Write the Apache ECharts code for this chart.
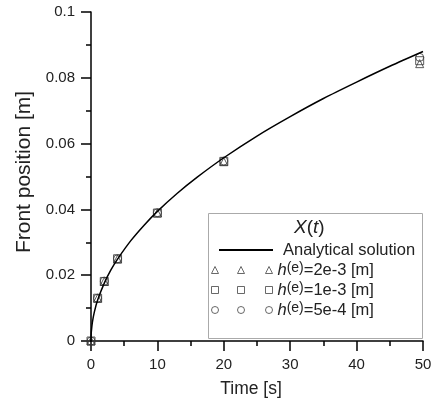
<!DOCTYPE html>
<html><head><meta charset="utf-8">
<script src="https://cdn.jsdelivr.net/npm/echarts@6/dist/echarts.min.js"></script>
<style>html,body{margin:0;padding:0;background:#fff}#c{width:435px;height:403px}</style>
</head><body><div id="c"></div>
<script>
const xTicks = [0, 10, 20, 30, 40, 50];
const yTicks = [0, 0.02, 0.04, 0.06, 0.08, 0.1];
const curveT = [0, 0.01, 0.05, 0.2, 0.5, 1, 2, 3, 4, 6, 8, 10, 13, 16, 20, 25, 30, 35, 40, 45, 50];
const curveX = [0, 0.00125, 0.0028, 0.0056, 0.0088, 0.01245, 0.0176, 0.0216, 0.0249, 0.0305, 0.0352, 0.0394, 0.0449, 0.0498, 0.0557, 0.0623, 0.0682, 0.0737, 0.0787, 0.0835, 0.0880];
const sampleT = [0, 1, 2, 4, 10, 20, 49.5];
const h2e3 = [0, 0.0130, 0.0181, 0.0249, 0.0389, 0.0545, 0.0843];
const h1e3 = [0, 0.0130, 0.0181, 0.0250, 0.0389, 0.0546, 0.0852];
const h5e4 = [0, 0.0130, 0.0182, 0.0250, 0.0390, 0.0547, 0.0862];
const seriesNames = ['Analytical solution', 'h2e3', 'h1e3', 'h5e4'];
const legendLabels = {
  'h2e3': '{i|h}{s|(e)}{n|=2e-3 [m]}',
  'h1e3': '{i|h}{s|(e)}{n|=1e-3 [m]}',
  'h5e4': '{i|h}{s|(e)}{n|=5e-4 [m]}'
};

const FONT = 'Liberation Sans, Arial, sans-serif';
const INK = '#222';
const zip = (a, b) => a.map((v, i) => [v, b[i]]);
const triIcon = 'path://M0 7L3.5 0L7 7Z M26 7L29.5 0L33 7Z M54 7L57.5 0L61 7Z';
const sqIcon = 'path://M0 0H7V7H0Z M26 0H33V7H26Z M54 0H61V7H54Z';
const ciIcon = 'path://M0 3.5A3.5 3.5 0 1 0 7 3.5A3.5 3.5 0 1 0 0 3.5Z M26 3.5A3.5 3.5 0 1 0 33 3.5A3.5 3.5 0 1 0 26 3.5Z M54 3.5A3.5 3.5 0 1 0 61 3.5A3.5 3.5 0 1 0 54 3.5Z';
const hollow = { color: 'rgba(0,0,0,0)', borderColor: '#333', borderWidth: 1 };
const legendIconStyle = { color: 'rgba(0,0,0,0)', borderColor: '#444', borderWidth: 1 };
const richTxt = {
  i: { fontStyle: 'italic', fontSize: 16.5, fontFamily: FONT, color: INK, lineHeight: 18, verticalAlign: 'bottom' },
  s: { fontSize: 14, fontFamily: FONT, color: INK, lineHeight: 18, verticalAlign: 'top', padding: [0, 0, 4, 0] },
  n: { fontSize: 16.5, fontFamily: FONT, color: INK, lineHeight: 18, verticalAlign: 'bottom' }
};
const titleRich = {
  i: { fontStyle: 'italic', fontSize: 19, fontFamily: FONT, color: INK },
  n: { fontSize: 19, fontFamily: FONT, color: INK }
};

const chart = echarts.init(document.getElementById('c'), null, { renderer: 'canvas' });
chart.setOption({
  animation: false,
  backgroundColor: '#fff',
  grid: { left: 91, right: 12, top: 12, bottom: 59, containLabel: false },
  xAxis: {
    type: 'value', min: xTicks[0], max: xTicks[xTicks.length - 1], interval: 10,
    name: 'Time [s]', nameLocation: 'middle', nameGap: 39,
    nameTextStyle: { fontSize: 17.5, fontFamily: FONT, color: INK, padding: [0, 12, 0, 0] },
    axisLine: { show: true, onZero: false, lineStyle: { color: '#000', width: 1.5 } },
    axisTick: { show: true, length: 10, lineStyle: { color: '#000', width: 1.5 } },
    minorTick: { show: true, splitNumber: 2, length: 5, lineStyle: { color: '#000', width: 1.5 } },
    axisLabel: { fontSize: 15, fontFamily: FONT, color: INK, margin: 16 },
    splitLine: { show: false }
  },
  yAxis: {
    type: 'value', min: yTicks[0], max: yTicks[yTicks.length - 1], interval: 0.02,
    name: 'Front position [m]', nameLocation: 'middle', nameGap: 56,
    nameTextStyle: { fontSize: 21, fontFamily: FONT, color: INK, padding: [0, 0, 0, 9] },
    axisLine: { show: true, onZero: false, lineStyle: { color: '#000', width: 1.5 } },
    axisTick: { show: true, length: 10, lineStyle: { color: '#000', width: 1.5 } },
    minorTick: { show: true, splitNumber: 2, length: 5, lineStyle: { color: '#000', width: 1.5 } },
    axisLabel: { fontSize: 15, fontFamily: FONT, color: INK, margin: 16,
      formatter: v => String(+v.toFixed(2)) },
    splitLine: { show: false }
  },
  graphic: [
    { type: 'rect', left: 208, top: 213, z: 10, silent: true,
      shape: { width: 214, height: 125 },
      style: { fill: '#fff', stroke: '#aaa', lineWidth: 1 } },
    { type: 'text', left: 294, top: 218, z: 11, silent: true,
      style: { text: '{i|X}{n|(}{i|t}{n|)}', rich: titleRich, fill: INK } }
  ],
  legend: [
    { data: [{ name: seriesNames[0], itemStyle: { color: 'rgba(0,0,0,0)', borderWidth: 0 } }],
      orient: 'vertical', left: 218, top: 241, z: 12,
      itemWidth: 54, itemHeight: 6, padding: 0,
      textStyle: { fontSize: 16.5, fontFamily: FONT, color: INK, lineHeight: 18, padding: [0, 0, 0, 5] } },
    { data: [
        { name: seriesNames[1], icon: triIcon, itemStyle: legendIconStyle },
        { name: seriesNames[2], icon: sqIcon, itemStyle: legendIconStyle },
        { name: seriesNames[3], icon: ciIcon, itemStyle: legendIconStyle }
      ], orient: 'vertical', left: 211, top: 261, z: 12, itemGap: 2,
      itemWidth: 61, itemHeight: 7, padding: 0,
      formatter: name => legendLabels[name],
      textStyle: { fontSize: 16.5, fontFamily: FONT, color: INK, lineHeight: 18, rich: richTxt } }
  ],
  series: [
    { name: seriesNames[0], type: 'line', data: zip(curveT, curveX), smooth: 0.3,
      showSymbol: false, symbol: 'none', z: 5,
      lineStyle: { color: '#000', width: 1.5 }, itemStyle: { color: '#000' } },
    { name: seriesNames[1], type: 'scatter', data: zip(sampleT, h2e3), symbol: 'triangle', symbolSize: 8, itemStyle: hollow, z: 3 },
    { name: seriesNames[2], type: 'scatter', data: zip(sampleT, h1e3), symbol: 'rect', symbolSize: 8, itemStyle: hollow, z: 3 },
    { name: seriesNames[3], type: 'scatter', data: zip(sampleT, h5e4), symbol: 'circle', symbolSize: 8, itemStyle: hollow, z: 3 }
  ]
});
</script>
</body></html>
